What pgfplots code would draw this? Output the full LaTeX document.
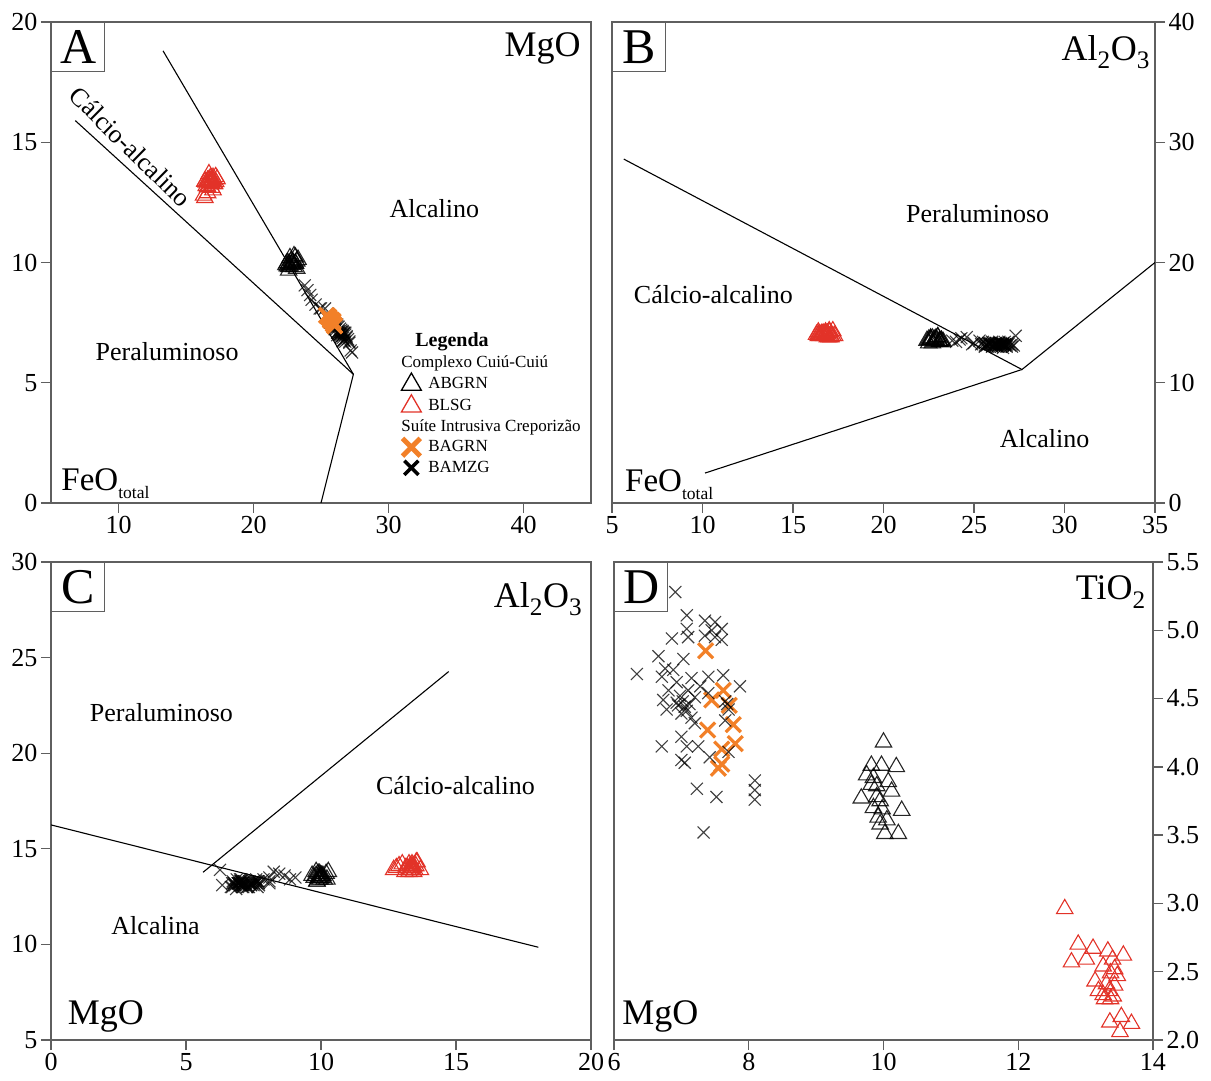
\documentclass[border=0pt]{standalone}
\usepackage{fontspec}
\setmainfont{Liberation Serif}
\usepackage{pgfplots}
\usepackage{pgfplotstable}
\pgfplotsset{compat=1.18}

\definecolor{redtri}{RGB}{226,50,40}
\definecolor{orgx}{RGB}{242,128,40}
\definecolor{axgray}{RGB}{95,95,95}

% columns: FeO_total, MgO, Al2O3, TiO2
\pgfplotstableread{
fe mg al ti
16.4 12.69 13.9 2.96
16.6 12.89 14.1 2.70
16.9 13.11 13.8 2.67
16.3 12.79 14.0 2.57
17.0 13.01 14.2 2.59
16.5 13.33 13.9 2.65
17.2 13.56 14.3 2.62
16.8 13.40 14.0 2.59
17.1 13.26 13.8 2.54
16.7 13.43 14.1 2.52
16.4 13.37 14.2 2.49
17.3 13.47 13.9 2.47
16.6 13.14 14.0 2.43
16.9 13.31 14.1 2.41
17.0 13.43 13.8 2.40
16.5 13.19 14.0 2.36
17.2 13.35 13.9 2.36
16.8 13.26 14.2 2.33
16.6 13.41 14.0 2.32
17.1 13.28 13.9 2.30
16.9 13.37 14.1 2.30
16.4 13.36 14.0 2.13
17.0 13.53 14.3 2.17
16.7 13.68 13.9 2.12
16.8 13.51 14.1 2.06
}\blsg

\pgfplotstableread{
fe mg al ti
22.9 10.00 13.5 4.18
22.6 9.82 13.6 4.01
23.1 9.97 13.4 4.01
22.7 10.19 13.7 4.00
23.2 9.75 13.5 3.94
22.5 9.85 13.3 3.92
22.8 10.07 13.6 3.89
23.0 9.82 13.8 3.87
22.4 9.90 13.5 3.86
23.3 10.12 13.4 3.82
22.6 9.67 13.6 3.77
22.9 9.90 13.7 3.78
23.1 9.95 13.5 3.75
22.7 9.85 13.3 3.70
22.5 9.98 13.6 3.69
23.0 10.27 13.8 3.68
22.8 9.92 13.4 3.63
23.2 10.05 13.5 3.61
22.6 9.95 13.7 3.58
22.9 10.02 13.6 3.51
23.1 10.22 13.4 3.51
}\abgrn

\pgfplotstableread{
fe mg al ti
26.5 6.91 13.2 5.28
26.3 7.08 13.0 5.11
26.2 7.35 13.3 5.07
25.7 7.50 13.1 5.06
26.0 7.60 13.4 5.01
26.8 7.08 13.2 5.01
26.6 6.86 12.9 4.94
25.9 7.35 13.2 4.96
25.6 7.60 13.3 4.93
26.2 7.10 13.1 4.95
27.1 6.66 13.0 4.81
26.4 7.03 13.3 4.79
27.2 6.34 13.1 4.68
26.7 6.76 13.2 4.72
26.9 6.88 13.4 4.71
26.8 6.71 13.0 4.66
26.5 6.93 13.2 4.62
26.3 7.15 13.3 4.65
26.1 7.40 13.1 4.66
25.9 7.62 13.2 4.67
25.5 7.87 13.4 4.59
27.0 6.81 13.1 4.56
26.6 7.10 13.2 4.56
26.0 7.28 13.0 4.59
26.6 6.73 13.3 4.49
26.9 6.93 13.2 4.47
26.3 7.05 13.1 4.44
26.5 7.20 13.3 4.51
25.8 7.40 13.2 4.54
25.6 7.65 13.0 4.48
26.7 6.78 13.2 4.42
26.4 7.00 13.4 4.39
26.6 7.15 13.1 4.36
26.1 7.20 13.2 4.32
25.9 7.65 13.3 4.34
26.8 7.00 13.1 4.22
27.1 6.71 13.2 4.15
26.2 7.08 13.3 4.15
26.4 7.25 13.0 4.15
25.4 7.70 13.2 4.11
26.2 7.42 13.1 4.07
26.5 7.00 13.2 4.05
26.7 7.05 13.4 4.03
25.0 8.09 13.3 3.90
25.3 8.09 13.5 3.83
24.9 8.09 13.2 3.76
26.0 7.23 13.1 3.84
25.7 7.52 13.2 3.78
26.3 7.33 13.0 3.52
26.6 6.95 13.2 4.45
26.4 7.02 13.3 4.48
26.7 7.08 13.1 4.41
26.2 6.98 13.2 4.52
26.5 7.12 13.0 4.46
25.8 7.50 13.3 4.95
26.0 7.45 13.2 5.00
25.6 7.70 13.1 4.42
25.8 7.68 13.3 4.46
24.6 8.25 13.8 nan
24.3 8.45 13.7 nan
24.0 8.85 13.4 nan
23.8 9.05 13.5 nan
24.2 8.65 13.6 nan
27.3 6.26 13.9 nan
}\bamzg

\pgfplotstableread{
fe mg al ti
26.0 7.36 13.2 4.85
25.7 7.62 13.2 4.56
25.9 7.45 13.2 4.49
25.6 7.71 13.2 4.45
25.5 7.77 13.2 4.31
26.0 7.39 13.2 4.27
25.4 7.80 13.2 4.17
25.8 7.60 13.2 4.13
25.7 7.60 13.2 4.02
25.9 7.55 13.2 3.99
}\bagrn

\pgfplotsset{
  panel/.style={
    scale only axis,
    tick align=outside,
    major tick length=10pt,
    axis line style={axgray, line width=1.3pt},
    tick style={axgray, line width=1.3pt},
    tick label style={font=\fontsize{26}{28}\selectfont},
    /pgf/number format/assume math mode=true,
    xtick pos=left,
    minor tick num=0,
  },
  redt/.style={only marks, redtri, mark=triangle, mark size=9.5pt, mark options={line width=1.1pt, solid}},
  blkt/.style={only marks, black, mark=triangle, mark size=9.5pt, mark options={line width=1.1pt, solid}, draw opacity=0.85},
  blkx/.style={only marks, black, mark=x, mark size=8.5pt, mark options={line width=1.1pt, solid}, draw opacity=0.75},
  orgxs/.style={only marks, orgx, mark=x, mark size=10.6pt, mark options={line width=3.2pt, solid}},
  bound/.style={black, line width=1.1pt, no marks, forget plot},
}
\tikzset{
  region/.style={font=\fontsize{26}{28}\selectfont},
  corner/.style={font=\fontsize{36}{38}\selectfont, inner sep=0pt},
  letterbox/.style={draw=axgray, line width=1.2pt, anchor=north west, minimum width=53pt, minimum height=49pt, inner sep=0pt, font=\fontsize{50}{50}\selectfont},
}
\newcommand{\feot}{\fontsize{33}{36}\selectfont FeO\raisebox{-8pt}{\fontsize{17.5}{20}\selectfont total}}

\begin{document}
\begin{tikzpicture}
\path[use as bounding box] (0pt,0pt) rectangle (1211pt,1080pt);

% ---------------- Panel A ----------------
\begin{axis}[panel,
  at={(51pt,577pt)}, anchor=south west,
  width=540pt, height=481pt,
  xmin=5, xmax=45, ymin=0, ymax=20,
  xtick={10,20,30,40}, ytick={0,5,10,15,20},
  ytick pos=left,
  legend style={at={(0.643,0.36)}, anchor=north west, draw=none, fill=none,
    font=\fontsize{17}{19}\selectfont, row sep=0pt,
    nodes={inner sep=1pt, text height=13.5pt, text depth=5pt}},
  legend cell align=left,
]
\addplot[bound] coordinates {(13.3,18.8) (27.4,5.35) (25,0)};
\addplot[bound] coordinates {(6.8,15.9) (27.4,5.35)};
\addplot[redt, forget plot] table[x=fe, y=mg] {\blsg};
\addplot[blkt, forget plot] table[x=fe, y=mg] {\abgrn};
\addplot[blkx, forget plot] table[x=fe, y=mg] {\bamzg};
\addplot[orgxs, forget plot] table[x=fe, y=mg] {\bagrn};

\addlegendimage{empty legend}\addlegendentry{\hspace*{-7pt}\fontsize{20}{22}\selectfont\textbf{Legenda}}
\addlegendimage{empty legend}\addlegendentry{\hspace*{-21pt}Complexo Cuiú-Cuiú}
\addlegendimage{only marks, black, mark=triangle, mark size=11.5pt, mark options={line width=1.3pt}}\addlegendentry{\hspace*{6pt}ABGRN}
\addlegendimage{only marks, redtri, mark=triangle, mark size=11.5pt, mark options={line width=1.3pt}}\addlegendentry{\hspace*{6pt}BLSG}
\addlegendimage{empty legend}\addlegendentry{\hspace*{-21pt}Suíte Intrusiva Creporizão}
\addlegendimage{only marks, orgx, mark=x, mark size=12.5pt, mark options={line width=5pt}}\addlegendentry{\hspace*{6pt}BAGRN}
\addlegendimage{only marks, black, mark=x, mark size=10pt, mark options={line width=3.5pt}}\addlegendentry{\hspace*{6pt}BAMZG}

\node[rotate=-44.5, region] at (axis cs:10.9,14.8) {Cálcio-alcalino};
\node[region] at (axis cs:33.4,12.25) {Alcalino};
\node[region] at (axis cs:13.6,6.3) {Peraluminoso};
\node[corner, anchor=north east] at (rel axis cs:0.981,0.979) {MgO};
\node[corner, anchor=base west] at (rel axis cs:0.019,0.027) {\feot};
\node[letterbox] at (rel axis cs:0,1) {A};
\end{axis}

% ---------------- Panel B ----------------
\begin{axis}[panel,
  at={(612pt,577pt)}, anchor=south west,
  width=543pt, height=481pt,
  xmin=5, xmax=35, ymin=0, ymax=40,
  xtick={5,10,...,35}, ytick={0,10,20,30,40},
  ytick pos=right, yticklabel pos=right,
]
\addplot[bound] coordinates {(5.65,28.6) (27.65,11.1) (35,20)};
\addplot[bound] coordinates {(10.14,2.49) (27.65,11.1)};
\addplot[redt, forget plot] table[x=fe, y=al] {\blsg};
\addplot[blkt, forget plot] table[x=fe, y=al] {\abgrn};
\addplot[blkx, forget plot] table[x=fe, y=al] {\bamzg};

\node[region] at (axis cs:25.2,24.1) {Peraluminoso};
\node[region] at (axis cs:10.6,17.35) {Cálcio-alcalino};
\node[region] at (axis cs:28.9,5.36) {Alcalino};
\node[corner, anchor=north east] at (rel axis cs:0.991,0.973) {Al\textsubscript{2}O\textsubscript{3}};
\node[corner, anchor=base west] at (rel axis cs:0.024,0.024) {\feot};
\node[letterbox] at (rel axis cs:0,1) {B};
\end{axis}

% ---------------- Panel C ----------------
\begin{axis}[panel,
  at={(51pt,40pt)}, anchor=south west,
  width=540pt, height=478pt,
  xmin=0, xmax=20, ymin=5, ymax=30,
  xtick={0,5,...,20}, ytick={5,10,...,30},
  ytick pos=left,
]
\addplot[bound] coordinates {(0,16.25) (18.05,9.85)};
\addplot[bound] coordinates {(5.63,13.77) (14.73,24.27)};
\addplot[redt, forget plot] table[x=mg, y=al] {\blsg};
\addplot[blkt, forget plot] table[x=mg, y=al] {\abgrn};
\addplot[blkx, forget plot] table[x=mg, y=al] {\bamzg};

\node[region] at (axis cs:4.09,22.1) {Peraluminoso};
\node[region] at (axis cs:14.98,18.3) {Cálcio-alcalino};
\node[region] at (axis cs:3.87,11.0) {Alcalina};
\node[corner, anchor=north east] at (rel axis cs:0.984,0.957) {Al\textsubscript{2}O\textsubscript{3}};
\node[corner, anchor=base west] at (rel axis cs:0.031,0.033) {MgO};
\node[letterbox] at (rel axis cs:0,1) {C};
\end{axis}

% ---------------- Panel D ----------------
\begin{axis}[panel,
  at={(614pt,40pt)}, anchor=south west,
  width=539pt, height=478pt,
  xmin=6, xmax=14, ymin=2, ymax=5.5,
  xtick={6,8,10,12,14}, ytick={2,2.5,...,5.5},
  ytick pos=right, yticklabel pos=right,
  yticklabel style={/pgf/number format/.cd, fixed, fixed zerofill, precision=1},
]
\addplot[redt, forget plot] table[x=mg, y=ti] {\blsg};
\addplot[blkt, forget plot] table[x=mg, y=ti] {\abgrn};
\addplot[orgxs, forget plot] table[x=mg, y=ti] {\bagrn};
\addplot[blkx, forget plot] table[x=mg, y=ti] {\bamzg};

\node[corner, anchor=north east] at (rel axis cs:0.987,0.971) {TiO\textsubscript{2}};
\node[corner, anchor=base west] at (rel axis cs:0.015,0.033) {MgO};
\node[letterbox] at (rel axis cs:0,1) {D};
\end{axis}
\end{tikzpicture}
\end{document}
